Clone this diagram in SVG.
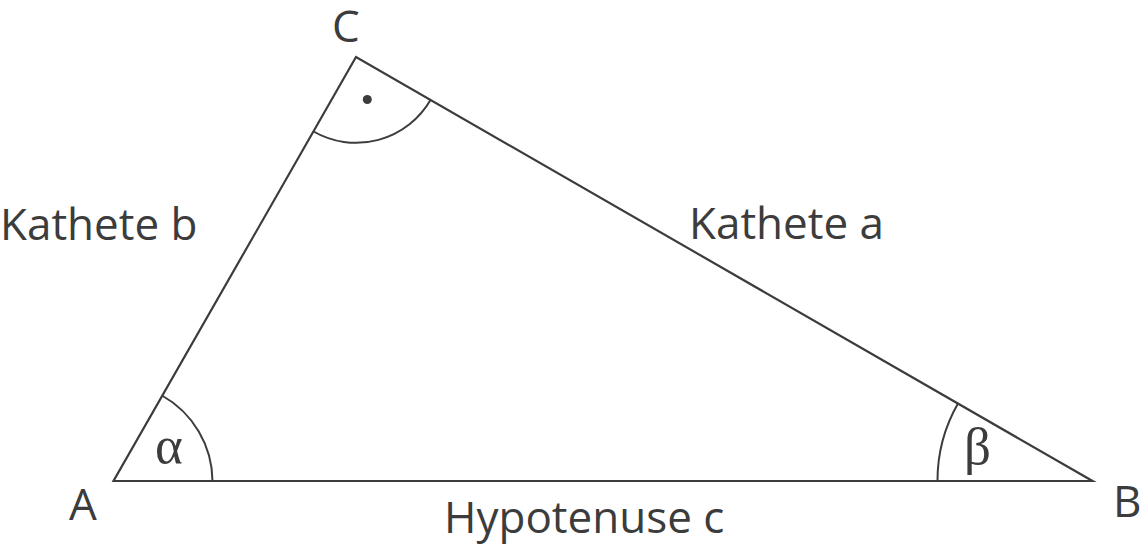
<svg xmlns="http://www.w3.org/2000/svg" width="1141" height="550" viewBox="0 0 1141 550">
<style>
.ln{fill:none;stroke:#3c3c3c;stroke-width:2.2;stroke-linejoin:miter}
.arc{fill:none;stroke:#3c3c3c;stroke-width:2}
.lbl{font-family:"Open Sans","Liberation Sans",sans-serif;font-size:44px;fill:#3c3c3c}
.gr{font-family:"Liberation Serif","DejaVu Serif",serif;font-size:53px;fill:#3c3c3c}
</style>
<rect width="1141" height="550" fill="#ffffff"/>
<g id="connectors">
<path class="ln" d="M113.5,481 L1092.5,481 L356,57 Z"/>
</g>
<g id="angle-alpha">
<path class="arc" d="M212.5,481 A99,99 0 0 0 162,395.5"/>
<text class="gr" x="155" y="463">α</text>
</g>
<g id="angle-beta">
<path class="arc" d="M937.5,481 A155,155 0 0 1 958,403.5"/>
<text class="gr" x="964" y="464">β</text>
</g>
<g id="angle-right">
<path class="arc" d="M313.5,131.5 A86,86 0 0 0 430.5,100"/>
<circle cx="367.3" cy="99.5" r="4.5" fill="#3c3c3c"/>
</g>
<g id="vertex-A"><text class="lbl" x="69" y="519.5">A</text></g>
<g id="vertex-B"><text class="lbl" x="1113" y="516.5">B</text></g>
<g id="vertex-C"><text class="lbl" x="332" y="41.5">C</text></g>
<g id="side-b"><text class="lbl" x="0" y="239.5">Kathete b</text></g>
<g id="side-a"><text class="lbl" x="689" y="239">Kathete a</text></g>
<g id="side-c"><text class="lbl" x="444" y="532.5">Hypotenuse c</text></g>
</svg>
